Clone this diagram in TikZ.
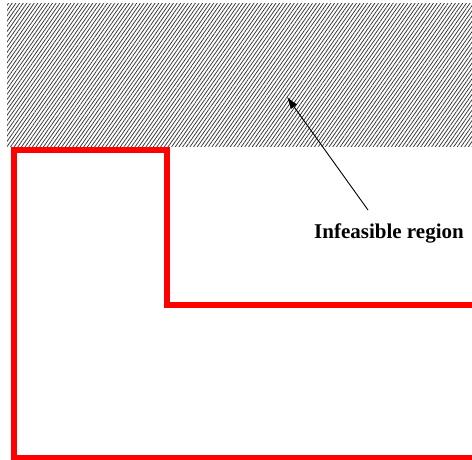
\documentclass[tikz,border=0pt]{standalone}
\usepackage{fontspec}
\setmainfont{Liberation Serif}
\usetikzlibrary{patterns.meta,arrows.meta}
\tikzset{
  hatch/.style={pattern={Lines[angle=55,distance=3pt,line width=0.75pt]},pattern color=black!80},
  redline/.style={draw=red,line width=6pt,line join=miter},
  label/.style={font=\fontsize{21}{24}\selectfont\bfseries,inner sep=0pt},
  pointer/.style={-{Latex[length=12pt,width=8pt]},line width=0.9pt}
}
\begin{document}
\begin{tikzpicture}[x=1pt,y=-1pt]
\useasboundingbox (0,0) rectangle (472,460);
\fill[hatch] (7,4) rectangle (472,147);
\begin{scope}
\clip (0,0) rectangle (472,460);
\draw[redline] (480,457.5) -- (14,457.5) -- (14,150) -- (167,150) -- (167,304.5) -- (480,304.5);
\end{scope}
\node[label] (t) at (389,233) {Infeasible region};
\coordinate (tail) at (368,210);
\coordinate (head) at (287,97);
\draw[pointer] (tail) -- (head);
\end{tikzpicture}
\end{document}
